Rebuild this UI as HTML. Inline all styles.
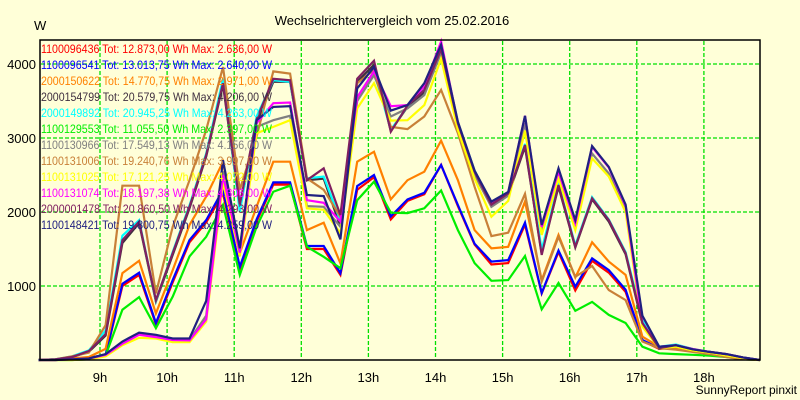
<!DOCTYPE html>
<html><head><meta charset="utf-8"><style>
html,body{margin:0;padding:0;background:#ffffd8;}
svg{display:block;font-family:"Liberation Sans",sans-serif;}
</style></head><body>
<svg id="chart" width="800" height="400" viewBox="0 0 800 400" xmlns="http://www.w3.org/2000/svg">
<rect x="0" y="0" width="800" height="400" fill="#ffffd8"/>
<text x="392" y="25" font-size="13" text-anchor="middle" fill="#000">Wechselrichtervergleich vom 25.02.2016</text>
<text x="34" y="30" font-size="13" fill="#000">W</text>
<g id="grid"></g>
<g id="series"></g>
<g id="legend"></g>
<rect x="40" y="40" width="720" height="320" fill="none" stroke="#000" stroke-width="1.5"/>
<g id="axes"></g>
<text x="797" y="394" font-size="12" text-anchor="end" fill="#000">SunnyReport pinxit</text>
</svg>
<script>
const times = ["08:05","08:20","08:35","08:50","09:05","09:20","09:35","09:50","10:05","10:20","10:35","10:50","11:05","11:20","11:35","11:50","12:05","12:20","12:35","12:50","13:05","13:20","13:35","13:50","14:05","14:20","14:35","14:50","15:05","15:20","15:35","15:50","16:05","16:20","16:35","16:50","17:05","17:20","17:35","17:50","18:05","18:20","18:35","18:50"];
const hourTicks = [9,10,11,12,13,14,15,16,17,18];
const hourLabels = ["9h","10h","11h","12h","13h","14h","15h","16h","17h","18h"];
const yTicks = [1000,2000,3000,4000];
const yTickLabels = ["1000","2000","3000","4000"];
const seriesNames = ["1100096436","1100096541","2000150622","2000154799","2000149892","1100129553","1100130966","1100131006","1100131025","1100131074","2000001478","1100148421"];
const seriesTotals = ["12.873,00","13.013,75","14.770,75","20.579,75","20.945,25","11.055,50","17.549,13","19.240,76","17.121,25","18.197,38","20.860,50","19.800,75"];
const seriesMax = ["2.636,00","2.640,00","2.971,00","4.206,00","4.263,00","2.397,00","4.156,00","3.997,00","4.072,00","4.306,00","4.293,00","4.259,00"];
const seriesColors = ["#ff0000","#0000ff","#ff8000","#403040","#00ffff","#00ee00","#808080","#c88038","#ffff00","#ff00ff","#802060","#202080"];
const sRed = [0,0,10,30,60,1000,1150,480,1050,1590,1860,2250,1230,1870,2370,2370,1500,1500,1150,2300,2470,1900,2150,2240,2636,2080,1560,1290,1310,1830,900,1460,940,1340,1180,920,260,150,170,130,100,60,20,0];
const sBlue = [0,0,10,30,70,1030,1180,500,1080,1620,1890,2300,1260,1900,2400,2400,1540,1540,1175,2350,2500,1940,2170,2260,2635,2095,1570,1330,1350,1855,905,1480,990,1375,1215,950,270,160,180,135,110,70,20,0];
const sOrange = [0,0,20,40,150,1175,1340,630,1215,1825,2210,2680,1445,2070,2680,2680,1755,1855,1305,2680,2815,2170,2430,2545,2965,2430,1755,1510,1530,2140,1080,1690,1115,1590,1330,1150,315,180,150,120,90,50,15,0];
const sDarkgray = [0,10,40,110,330,1580,1850,790,1420,2050,2750,3720,2050,3200,3760,3760,2430,2450,1800,3760,3990,3100,3420,3620,4206,3180,2520,2080,2230,2880,1440,2340,1520,2170,1870,1430,480,150,190,140,100,70,30,0];
const sCyan = [0,10,50,130,400,1680,1890,800,1460,2090,2790,3800,2000,3290,3780,3760,2455,2480,1880,3550,3900,3110,3430,3700,4263,3210,2560,2120,2260,2920,1490,2380,1550,2200,1900,1460,550,180,210,150,110,80,35,0];
const sGreen = [0,0,0,10,60,680,850,430,855,1400,1665,2095,1150,1800,2275,2355,1530,1395,1240,2160,2410,1990,1985,2050,2290,1755,1310,1070,1080,1405,685,1040,665,785,610,500,180,90,80,70,60,40,10,0];
const sGray = [0,0,10,20,70,230,350,320,270,270,600,2550,1500,3150,3240,3300,2080,2070,1800,3500,3850,3290,3400,3580,4156,3180,2500,2070,2220,3200,1750,2500,1800,2790,2520,2050,480,170,190,140,100,70,30,0];
const sBrown = [0,10,50,100,470,2355,2355,900,1800,2430,3110,3960,2300,3020,3900,3870,2455,2300,1935,3740,3920,3150,3120,3290,3650,3065,2340,1675,1720,2245,1060,1665,1125,1270,945,810,250,160,140,110,80,40,10,0];
const sYellow = [0,0,0,10,50,200,300,290,240,240,520,2400,1400,3065,3150,3240,2050,2030,1715,3400,3740,3235,3240,3445,4072,3110,2450,1935,2150,3100,1690,2450,1755,2725,2480,2000,450,160,180,130,100,60,25,0];
const sMagenta = [0,0,10,20,70,220,340,310,270,265,550,2500,1450,3200,3470,3480,2160,2125,1870,3550,3900,3430,3445,3700,4306,3200,2550,2120,2260,3300,1800,2550,1850,2880,2600,2080,500,180,200,150,110,80,35,0];
const sPurple = [0,10,40,120,350,1620,1870,810,1445,2070,2770,3740,2100,3250,3800,3780,2430,2590,1960,3800,4045,3085,3440,3650,4200,3200,2545,2100,2250,2905,1420,2365,1530,2185,1890,1445,500,160,200,145,110,80,35,0];
const sNavy = [0,0,10,20,80,250,370,340,290,290,800,2700,1510,3240,3420,3430,2230,2215,1630,3670,3960,3370,3445,3740,4259,3220,2560,2140,2270,3300,1825,2590,1890,2890,2610,2100,600,180,200,145,110,80,35,0];
const allSeries = [sRed,sBlue,sOrange,sDarkgray,sCyan,sGreen,sGray,sBrown,sYellow,sMagenta,sPurple,sNavy];

const NS = "http://www.w3.org/2000/svg";
function toHours(t){const p=t.split(":");return +p[0]+ +p[1]/60;}
function xScale(h){return 100+(h-9)*67.1;}
function yScale(v){return 360-v*0.074;}
function mk(tag,attrs,parent){const e=document.createElementNS(NS,tag);for(const k in attrs)e.setAttribute(k,attrs[k]);parent.appendChild(e);return e;}

const grid=document.getElementById('grid');
const axes=document.getElementById('axes');
hourTicks.forEach((h,i)=>{
  const x=xScale(h);
  const l=mk('line',{x1:x,y1:41,x2:x,y2:359,stroke:'#00e000','stroke-width':1.3,'stroke-dasharray':'4 2'},grid);
  
  
  const t=mk('text',{x:x,y:382,'font-size':13,'text-anchor':'middle',fill:'#000'},axes);
  
  
  t.textContent=hourLabels[i];
});
yTicks.forEach((v,i)=>{
  const y=yScale(v);
  const l=mk('line',{x1:41,y1:y,x2:759,y2:y,stroke:'#00e000','stroke-width':1.3,'stroke-dasharray':'4 2'},grid);
  
  
  const t=mk('text',{x:36,y:y+5,'font-size':13,'text-anchor':'end',fill:'#000'},axes);
  
  
  t.textContent=yTickLabels[i];
});
const sg=document.getElementById('series');
allSeries.forEach((vals,si)=>{
  const d=vals.map((v,i)=>(i?'L':'M')+xScale(toHours(times[i])).toFixed(1)+','+yScale(v).toFixed(1)).join(' ');
  const p=mk('path',{d:d,fill:'none',stroke:seriesColors[si],'stroke-width':2.2,'stroke-linejoin':'miter'},sg);
  
  
});
const lg=document.getElementById('legend');
seriesNames.forEach((n,i)=>{
  const t=mk('text',{x:41,y:53+i*16,'font-size':12,fill:seriesColors[i],textLength:231,lengthAdjust:'spacingAndGlyphs'},lg);
  
  
  t.textContent=n+' Tot: '+seriesTotals[i]+' Wh Max: '+seriesMax[i]+' W';
});
</script>
</body></html>
